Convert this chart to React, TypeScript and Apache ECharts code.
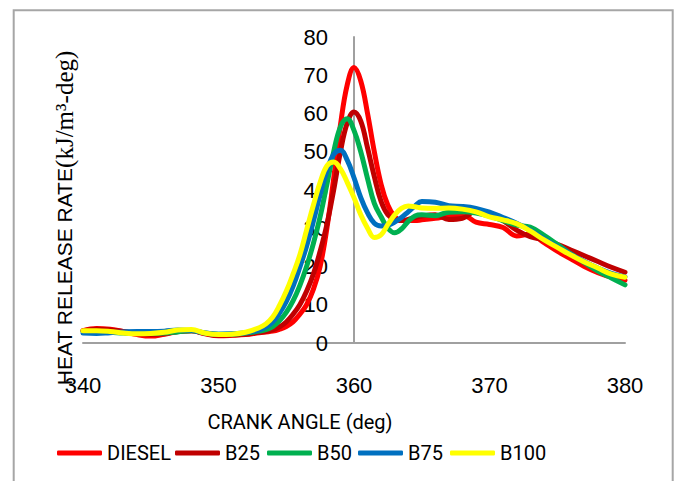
import React, { useEffect, useRef } from "react";
import * as echarts from "echarts";

const angles = [
  340, 341, 342, 343, 344, 345, 346, 347, 348, 349, 350, 351, 352, 353,
  353.5, 354, 354.5, 355, 355.5, 356, 356.5, 357, 357.5, 358, 358.5, 359, 359.5, 360,
  360.5, 361, 361.5, 362, 362.5, 363, 363.5, 364, 364.5, 365,
  366, 367, 368, 369, 370, 371, 372, 373, 374, 375, 376, 377, 378, 379, 380,
];

const diesel = [
  3.2, 3.8, 3.6, 3.0, 2.2, 1.8, 2.3, 3.0, 3.2, 2.4, 1.9, 2.0, 2.2, 2.7,
  2.9, 3.1, 3.6, 4.3, 5.5, 7.5, 10, 14, 20, 30, 43, 57, 67.5, 72,
  68.5, 60, 50, 41.5, 36, 33, 32, 32, 32, 32.2,
  32.6, 33.2, 33.5, 31.6, 31.0, 30.2, 28.0, 28.5, 26.3, 24.0, 22.0, 20.0, 18.4, 17.2, 16.4,
];

const b25 = [
  3.2, 3.6, 3.4, 3.0, 2.5, 2.2, 2.4, 3.0, 3.2, 2.5, 2.0, 2.1, 2.3, 2.8,
  3.0, 3.4, 4.2, 5.5, 7.5, 10, 13.5, 18, 24, 31, 40, 50, 57.5, 60.4,
  58, 51, 43.5, 37, 33.5, 32.3, 32, 32.3, 32.8, 33.2,
  33.5, 32.3, 32.6, 34.5, 33.8, 32.0, 29.5, 27.8, 27.0, 25.8, 24.3, 22.8, 21.3, 19.8, 18.5,
];

const b50 = [
  3.0, 2.9, 2.8, 2.6, 2.5, 2.5, 2.6, 2.9, 3.2, 2.6, 2.3, 2.3, 2.6, 3.1,
  3.5, 4.3, 5.8, 8, 11, 15, 20, 26, 33, 41.5, 50, 56.5, 58.6, 55.6,
  50, 43, 36.5, 33, 30, 28.8, 29.8, 31.8, 33.2, 33.5,
  33.3, 34.2, 34.3, 34.0, 33.2, 32.0, 30.8, 30.3, 28.2, 25.8, 23.3, 21.0, 18.8, 17.0, 15.2,
];

const b75 = [
  2.6, 2.5, 2.7, 2.9, 3.0, 3.0, 3.1, 3.4, 3.3, 2.6, 2.3, 2.4, 2.7, 3.4,
  4.2, 5.5, 7.8, 10.8, 14.8, 19.8, 25.3, 31.8, 38.8, 45, 49.3, 50.4, 47.8, 43.2,
  38, 34, 31.3, 30.6, 30.8, 31.6, 32.8, 34.3, 35.8, 37,
  36.8, 35.9, 35.7, 35.2, 34.2, 32.8, 31.3, 29.5, 27.3, 25.2, 23.2, 21.3, 19.6, 18.2, 17.3,
];

const b100 = [
  3.2, 3.2, 3.0, 2.6, 2.4, 2.5, 2.8, 3.4, 3.5, 2.6, 2.2, 2.3, 2.8, 4.0,
  5.0, 6.8, 9.8, 13.5, 18, 23, 29.5, 36, 42, 46.3, 47.3, 45.5, 42, 38,
  33.5, 30, 27.6, 28.3, 31, 33.5, 35.2, 35.8, 35.6, 35.3,
  35.2, 35.3, 35.0, 34.3, 33.0, 32.2, 31.2, 29.3, 27.0, 25.0, 23.0, 21.2, 19.6, 18.0, 17.2,
];

const seriesNames = ["DIESEL", "B25", "B50", "B75", "B100"];
const seriesValues = [diesel, b25, b50, b75, b100];
const seriesColors = ["#ff0000", "#c00000", "#00b050", "#0070c0", "#ffff00"];
const legendLefts = [57, 175, 267, 358, 450];

const xTitle = "CRANK ANGLE (deg)";
const yTitleMain = "HEAT RELEASE RATE";
const yTitleUnit = "(kJ/m³-deg)";

const SANS = "'Liberation Sans', Arial, sans-serif";
const NARROWISH = "Roboto, 'Liberation Sans', sans-serif";
const SERIF = "'Liberation Serif', 'Times New Roman', serif";

export default function App() {
  const ref = useRef<HTMLDivElement | null>(null);

  useEffect(() => {
    if (!ref.current) return;
    const chart = echarts.init(ref.current, undefined, { renderer: "svg" });

    const series = seriesNames.map((name, i) => ({
      name,
      type: "line",
      smooth: 0.4,
      showSymbol: false,
      symbol: "none",
      data: angles.map((a, j) => [a, seriesValues[i][j]]),
      lineStyle: { color: seriesColors[i], width: 5, cap: "round", join: "round" },
      itemStyle: { color: seriesColors[i] },
      z: 2 + i,
    }));

    const legends = seriesNames.map((name, i) => ({
      data: [name],
      left: legendLefts[i],
      top: 442,
      padding: 0,
      icon: "roundRect",
      itemWidth: 45,
      itemHeight: 5,
      itemGap: 0,
      textStyle: { fontFamily: NARROWISH, fontSize: 20, color: "#000", lineHeight: 22 },
      selectedMode: false,
    }));

    chart.setOption({
      animation: false,
      backgroundColor: "#ffffff",
      grid: { left: 83, top: 37, width: 542, height: 306, containLabel: false },
      xAxis: {
        type: "value",
        min: 340,
        max: 380,
        interval: 10,
        axisLine: { show: true, onZero: true, lineStyle: { color: "#a0a0a0", width: 2 } },
        axisTick: { show: false },
        splitLine: { show: false },
        axisLabel: { margin: 31, fontSize: 22, color: "#000", fontFamily: SANS },
      },
      yAxis: {
        type: "value",
        min: 0,
        max: 80,
        interval: 10,
        position: "left",
        offset: -271,
        axisLine: { show: true, lineStyle: { color: "#a0a0a0", width: 2 } },
        axisTick: { show: false },
        splitLine: { show: false },
        axisLabel: { margin: 26, fontSize: 22, color: "#000", fontFamily: SANS },
      },
      legend: legends,
      series,
      graphic: [
        {
          type: "rect",
          shape: { x: 13.7, y: 10.3, width: 659, height: 500 },
          style: { fill: "none", stroke: "#a6a6a6", lineWidth: 2 },
          silent: true,
          z: 0,
        },
        {
          type: "text",
          x: 300,
          y: 422,
          style: {
            text: xTitle,
            font: `20px ${NARROWISH}`,
            fill: "#000",
            textAlign: "center",
            textVerticalAlign: "middle",
          },
        },
        {
          type: "text",
          x: 64,
          y: 218,
          rotation: Math.PI / 2,
          style: {
            text: `{a|${yTitleMain}}{b|${yTitleUnit}}`,
            rich: {
              a: { fontFamily: SANS, fontSize: 21, fill: "#000" },
              b: { fontFamily: SERIF, fontSize: 25, fill: "#000" },
            },
            textAlign: "center",
            textVerticalAlign: "middle",
          },
        },
      ],
    });

    return () => chart.dispose();
  }, []);

  return (
    <div
      ref={ref}
      style={{ position: "fixed", left: 0, top: 0, width: 675, height: 481, background: "#fff" }}
    />
  );
}
